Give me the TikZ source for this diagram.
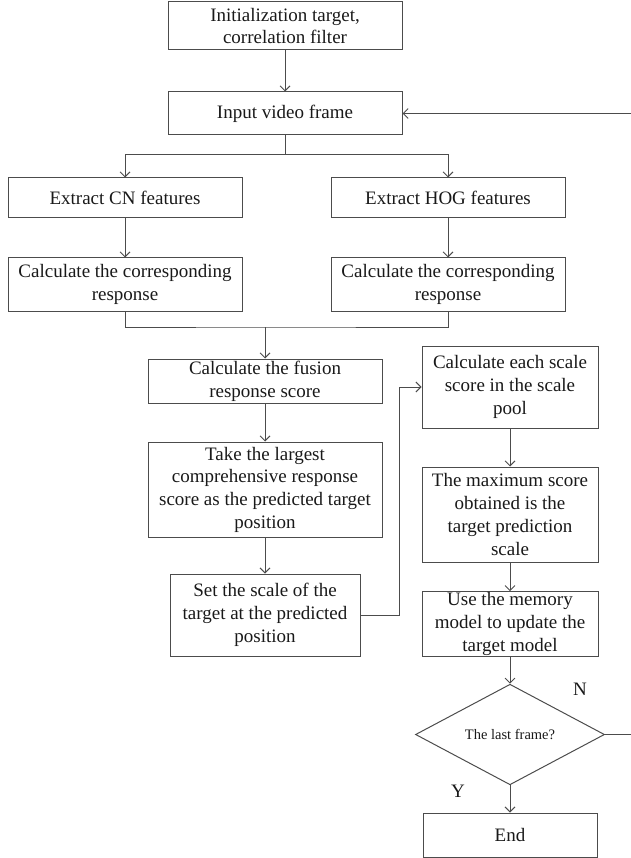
\documentclass[tikz,border=0pt]{standalone}
\usepackage{fontspec}
\setmainfont{Liberation Serif}
\usetikzlibrary{arrows.meta,shapes.geometric}
\begin{document}
\begin{tikzpicture}[x=1pt,y=-1pt,
  line width=1pt,
  flowline/.style={draw=black!70},
  arr/.style={flowline,-{Straight Barb[length=5pt,width=10pt,line width=0.9pt]}},
  procbox/.style={draw=black!70,rectangle,inner sep=1pt,align=center,text=black!90,
    font=\fontsize{19}{22.7}\selectfont},
  decision/.style={draw=black!70,diamond,inner sep=0pt,minimum width=189pt,minimum height=95pt,
    text=black!90,font=\fontsize{14.5}{17}\selectfont},
  lbl/.style={text=black!90,font=\fontsize{19}{22}\selectfont,inner sep=0pt}
]
\useasboundingbox (0,0) rectangle (630,858);
\node[procbox,minimum width=234pt,minimum height=48pt] (init) at (285,26) {Initialization target,\\correlation filter};
\node[procbox,minimum width=234pt,minimum height=43pt] (input) at (285,113.5) {Input video frame};
\node[procbox,minimum width=234pt,minimum height=40pt] (cn) at (125,198) {Extract CN features};
\node[procbox,minimum width=234pt,minimum height=40pt] (hog) at (448,198) {Extract HOG features};
\node[procbox,minimum width=234pt,minimum height=53pt] (rcn) at (125,284.5) {Calculate the corresponding\\response};
\node[procbox,minimum width=234pt,minimum height=53pt] (rhog) at (448,284.5) {Calculate the corresponding\\response};
\node[procbox,minimum width=234pt,minimum height=44pt] (fus) at (265,381) {Calculate the fusion\\response score};
\node[procbox,minimum width=234pt,minimum height=95pt] (take) at (265,489.5) {Take the largest\\comprehensive response\\score as the predicted target\\position};
\node[procbox,minimum width=190pt,minimum height=82pt] (setsc) at (265,615) {Set the scale of the\\target at the predicted\\position};
\node[procbox,minimum width=176pt,minimum height=82pt] (calc) at (510,387) {Calculate each scale\\score in the scale\\pool};
\node[procbox,minimum width=176pt,minimum height=95pt] (maxs) at (510,514.5) {The maximum score\\obtained is the\\target prediction\\scale};
\node[procbox,minimum width=176pt,minimum height=62pt] (mem) at (510,624) {Use the memory\\model to update the\\target model};
\node[decision] (last) at (510,734.5) {The last frame?};
\node[procbox,minimum width=174pt,minimum height=44pt] (endb) at (510,835) {End};
\node[lbl] (nlab) at (580,689) {N};
\node[lbl] (ylab) at (458,791) {Y};

\coordinate (split) at (285,155);
\coordinate (merge) at (265,327);
\coordinate (bend) at (399,615);
\coordinate (loop) at (633,734.5);

\draw[arr] (init) -- (input);
\draw[flowline] (input) -- (split);
\draw[arr] (split) -| (cn.north);
\draw[arr] (split) -| (hog.north);
\draw[arr] (cn) -- (rcn);
\draw[arr] (hog) -- (rhog);
\draw[flowline] (rcn.south) |- (merge) -| (rhog.south);
\draw[arr] (merge) -- (fus.north);
\draw[arr] (fus) -- (take);
\draw[arr] (take) -- (setsc);
\draw[arr] (setsc.east) -- (bend) |- (calc.west);
\draw[arr] (calc) -- (maxs);
\draw[arr] (maxs) -- (mem);
\draw[arr] (mem) -- (last.north);
\draw[arr] (last.south) -- (endb.north);
\draw[arr] (last.east) -- (loop) |- (input.east);
\end{tikzpicture}
\end{document}
